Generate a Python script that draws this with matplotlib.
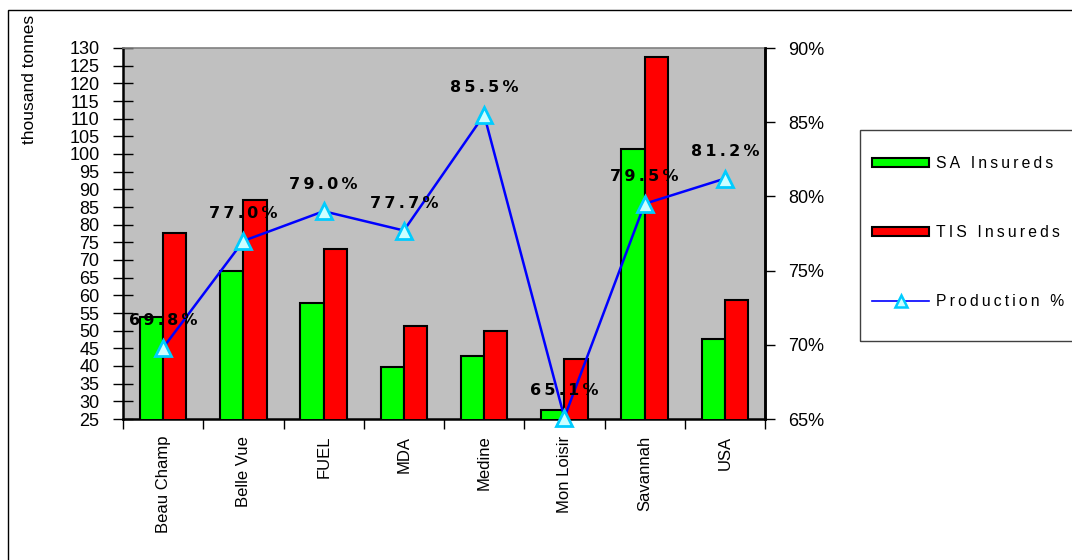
import matplotlib
matplotlib.use("Agg")
import matplotlib.pyplot as plt
import numpy as np
from matplotlib.patches import Rectangle, Patch
from matplotlib.lines import Line2D
from matplotlib.ticker import FixedLocator, NullFormatter

categories = ["Beau Champ", "Belle Vue", "FUEL", "MDA", "Medine", "Mon Loisir", "Savannah", "USA"]
sa_insureds = [54.0, 66.9, 57.7, 39.8, 42.9, 27.5, 101.5, 47.6]
tis_insureds = [77.6, 87.0, 73.1, 51.4, 50.0, 41.9, 127.5, 58.8]
production_pct = [69.8, 77.0, 79.0, 77.7, 85.5, 65.1, 79.5, 81.2]
left_ticks = list(range(25, 131, 5))
right_ticks = [65, 70, 75, 80, 85, 90]
series_names = ["SA Insureds", "TIS Insureds", "Production %"]

plt.rcParams['font.family'] = ['Liberation Sans', 'DejaVu Sans']


def spaced(s, sep="\u2009"):
    return sep.join(list(s))


W, H = 1072, 560
fig = plt.figure(figsize=(W / 100, H / 100), dpi=100)
fig.patch.set_facecolor("white")

# outer border (left & top visible)
fig.add_artist(Rectangle((8 / W, -0.05), 1.2, 1 - 10 / H + 0.05, transform=fig.transFigure,
                         fill=False, edgecolor="black", linewidth=1))

ax = fig.add_axes([123 / W, 1 - 419 / H, (765 - 123) / W, (419 - 48) / H])
ax.set_facecolor("#C0C0C0")

x = np.arange(len(categories))
bw = 0.29
ax.bar(x - bw / 2, sa_insureds, width=bw, color="#00FF00", edgecolor="black", linewidth=1.5, zorder=3)
ax.bar(x + bw / 2, tis_insureds, width=bw, color="#FF0000", edgecolor="black", linewidth=1.5, zorder=3)
ax.set_ylim(25, 130)
ax.set_xlim(-0.5, len(categories) - 0.5)
ax.set_yticks(left_ticks)
ax.set_yticklabels([str(v) for v in left_ticks], fontsize=13)
ax.tick_params(axis="y", direction="inout", length=14, width=1, pad=10, colors="black")
ax.set_xticks(x)
ax.set_xticklabels(categories, rotation=90, fontsize=12, va="top")
ax.tick_params(axis="x", which="major", length=0, pad=12)
ax.xaxis.set_minor_locator(FixedLocator(np.arange(-0.5, len(categories), 1.0)))
ax.xaxis.set_minor_formatter(NullFormatter())
ax.tick_params(axis="x", which="minor", direction="out", length=7, width=1)
for s in ["left", "bottom"]:
    ax.spines[s].set_color("black")
    ax.spines[s].set_linewidth(1.8)
ax.spines["top"].set_color("#808080")
ax.spines["top"].set_linewidth(1.2)
ax.spines["right"].set_color("black")
ax.spines["right"].set_linewidth(1.8)

ax2 = ax.twinx()
ax2.plot(x, production_pct, color="#0000FF", linewidth=1.8, marker="^", markersize=11,
         markerfacecolor="#CCFFFF", markeredgecolor="#00CCFF", markeredgewidth=2, zorder=5, clip_on=False)
ax2.set_ylim(65, 90)
ax2.set_yticks(right_ticks)
ax2.set_yticklabels([f"{v}%" for v in right_ticks], fontsize=13)
ax2.tick_params(axis="y", direction="out", length=7, width=1, pad=10)
ax2.spines["right"].set_linewidth(1.8)
ax2.spines["top"].set_visible(False)
ax2.spines["left"].set_visible(False)
ax2.spines["bottom"].set_visible(False)

for xi, p in zip(x, production_pct):
    ax2.annotate(spaced(f"{p:.1f}%"), (xi, p), xytext=(0, 27), textcoords="offset pixels",
                 ha="center", va="center", fontsize=11.5, fontweight="bold",
                 family=["DejaVu Sans"], color="black", zorder=6)

fig.text(30 / W, 1 - 15 / H, "thousand tonnes", rotation=90, ha="center", va="top", fontsize=12.5)

# legend frame drawn separately (tall vertical padding, narrow horizontal padding)
fig.add_artist(Rectangle((860 / W, 1 - 341 / H), 0.3, (341 - 130) / H, transform=fig.transFigure,
                         fill=False, edgecolor="#404040", linewidth=1))
handles = [
    Patch(facecolor="#00FF00", edgecolor="black", linewidth=1.5),
    Patch(facecolor="#FF0000", edgecolor="black", linewidth=1.5),
    Line2D([], [], color="#0000FF", linewidth=1.2, marker="^", markersize=9,
           markerfacecolor="#CCFFFF", markeredgecolor="#00CCFF", markeredgewidth=1.8),
]
leg = fig.legend(handles, [spaced(n) for n in series_names],
                 loc="upper left", bbox_to_anchor=(872 / W, 1 - 156 / H), borderaxespad=0,
                 fontsize=11.3, frameon=False, borderpad=0,
                 labelspacing=3.45, handlelength=3.65, handleheight=0.58, handletextpad=0.45)

fig.savefig("out.png", dpi=100)
